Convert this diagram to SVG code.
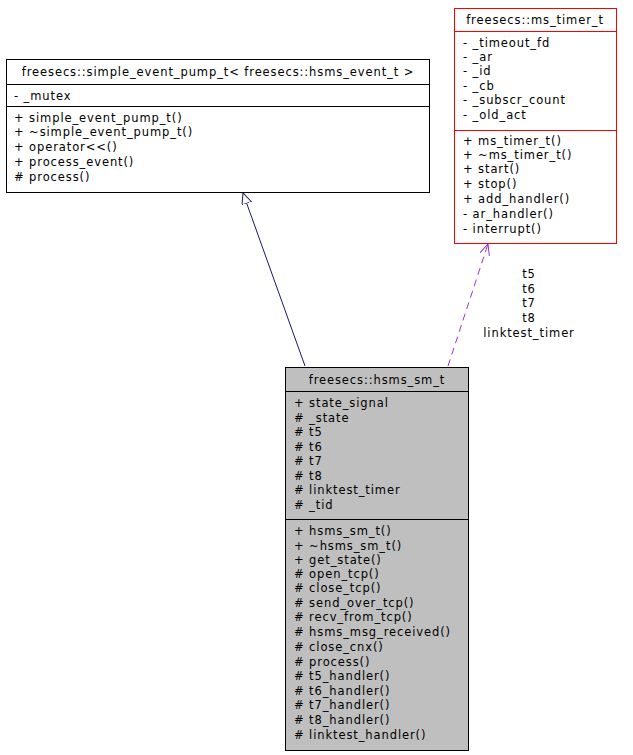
<svg xmlns="http://www.w3.org/2000/svg" width="633" height="755" viewBox="0 0 633 755">
<style>
text{font-family:"DejaVu Sans",sans-serif;font-size:11.5px;letter-spacing:0.9px;fill:#000}
.c{text-anchor:middle}
</style>
<defs>
<marker id="tri" markerWidth="12" markerHeight="12" refX="11" refY="5" orient="auto" markerUnits="userSpaceOnUse"><path d="M0,0 L11,5 L0,10 Z" fill="#fff" stroke="#191970"/></marker>
<marker id="open" markerWidth="12" markerHeight="12" refX="11" refY="5" orient="auto" markerUnits="userSpaceOnUse"><path d="M0,0 L11,5 L0,10" fill="none" stroke="#9a32cd"/></marker>
</defs>
<rect width="633" height="755" fill="#fff"/>
<g id="connectors">
<line x1="305" y1="366" x2="243" y2="193" stroke="#191970" marker-end="url(#tri)"/>
<line x1="448" y1="366" x2="488" y2="244" stroke="#9a32cd" stroke-dasharray="7,5" marker-end="url(#open)"/>
<g class="c"><text x="529" y="278">t5</text><text x="529" y="293">t6</text><text x="529" y="307">t7</text><text x="529" y="322">t8</text><text x="529" y="337">linktest_timer</text></g>
</g>
<g id="simple_event_pump">
<rect x="6.5" y="59.5" width="423" height="133" fill="#fff" stroke="#000"/>
<line x1="6.5" y1="84.5" x2="429.5" y2="84.5" stroke="#000"/>
<line x1="6.5" y1="106.5" x2="429.5" y2="106.5" stroke="#000"/>
<text class="c" x="218" y="76">freesecs::simple_event_pump_t&lt; freesecs::hsms_event_t &gt;</text>
<text x="14" y="100">- _mutex</text>
<text x="14" y="122">+ simple_event_pump_t()</text>
<text x="14" y="136">+ ~simple_event_pump_t()</text>
<text x="14" y="151">+ operator&lt;&lt;()</text>
<text x="14" y="166">+ process_event()</text>
<text x="14" y="181"># process()</text>
</g>
<g id="ms_timer">
<rect x="454.5" y="8.5" width="162" height="235" fill="#fff" stroke="#ff0000"/>
<line x1="454.5" y1="31.5" x2="616.5" y2="31.5" stroke="#ff0000"/>
<line x1="454.5" y1="130.5" x2="616.5" y2="130.5" stroke="#ff0000"/>
<text class="c" x="535" y="24">freesecs::ms_timer_t</text>
<text x="463" y="47">- _timeout_fd</text>
<text x="463" y="61">- _ar</text>
<text x="463" y="75">- _id</text>
<text x="463" y="90">- _cb</text>
<text x="463" y="104">- _subscr_count</text>
<text x="463" y="119">- _old_act</text>
<text x="463" y="145">+ ms_timer_t()</text>
<text x="463" y="159">+ ~ms_timer_t()</text>
<text x="463" y="173">+ start()</text>
<text x="463" y="188">+ stop()</text>
<text x="463" y="203">+ add_handler()</text>
<text x="463" y="218">- ar_handler()</text>
<text x="463" y="233">- interrupt()</text>
</g>
<g id="hsms_sm">
<rect x="285.5" y="367.5" width="183" height="383" fill="#bfbfbf" stroke="#000"/>
<line x1="285.5" y1="391.5" x2="468.5" y2="391.5" stroke="#000"/>
<line x1="285.5" y1="519.5" x2="468.5" y2="519.5" stroke="#000"/>
<text class="c" x="377" y="384">freesecs::hsms_sm_t</text>
<text x="294" y="407">+ state_signal</text>
<text x="294" y="422"># _state</text>
<text x="294" y="436"># t5</text>
<text x="294" y="451"># t6</text>
<text x="294" y="465"># t7</text>
<text x="294" y="480"># t8</text>
<text x="294" y="494"># linktest_timer</text>
<text x="294" y="509"># _tid</text>
<text x="294" y="535">+ hsms_sm_t()</text>
<text x="294" y="550">+ ~hsms_sm_t()</text>
<text x="294" y="564">+ get_state()</text>
<text x="294" y="578"># open_tcp()</text>
<text x="294" y="592"># close_tcp()</text>
<text x="294" y="607"># send_over_tcp()</text>
<text x="294" y="621"># recv_from_tcp()</text>
<text x="294" y="636"># hsms_msg_received()</text>
<text x="294" y="651"># close_cnx()</text>
<text x="294" y="666"># process()</text>
<text x="294" y="680"># t5_handler()</text>
<text x="294" y="695"># t6_handler()</text>
<text x="294" y="709"># t7_handler()</text>
<text x="294" y="724"># t8_handler()</text>
<text x="294" y="739"># linktest_handler()</text>
</g>
</svg>
